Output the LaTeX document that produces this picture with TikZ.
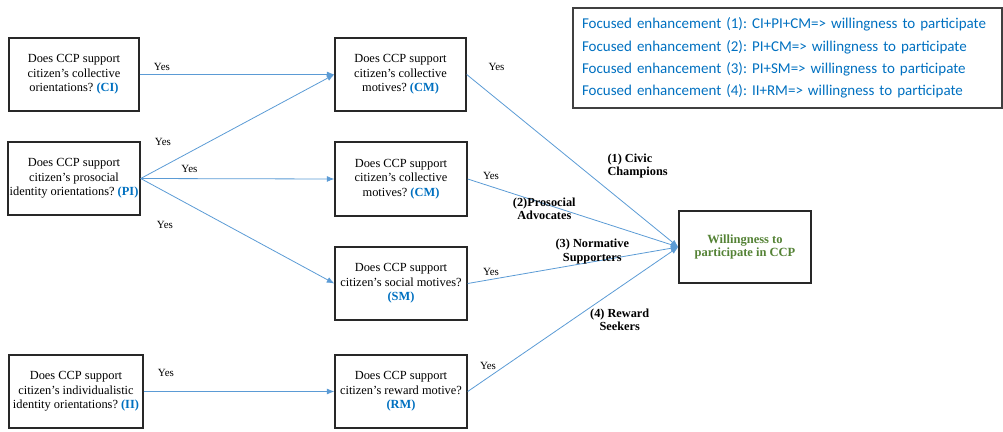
\documentclass[tikz,border=0pt]{standalone}
\usepackage{fontspec}
\setmainfont{Liberation Serif}
\newfontfamily\legendfont{Carlito}
\usetikzlibrary{arrows.meta}
\definecolor{arrowblue}{RGB}{91,155,213}
\definecolor{labelblue}{RGB}{0,112,192}
\definecolor{textgreen}{RGB}{84,130,53}
\definecolor{boxline}{RGB}{40,40,40}
\definecolor{legendline}{RGB}{64,64,64}
\newcommand{\abbr}[1]{\textbf{\textcolor{labelblue}{#1}}}
\frenchspacing
\begin{document}
\begin{tikzpicture}[x=1pt,y=-1pt,
  qbox/.style={draw=boxline, line width=1.4pt, align=center, inner sep=1pt,
    minimum height=73pt, font=\frenchspacing\fontsize{12.4}{14.7}\selectfont},
  arr/.style={draw=arrowblue, line width=0.8pt, -{Latex[length=7.5pt,width=6pt]}},
  yes/.style={inner sep=0pt, font=\fontsize{11}{13}\selectfont},
  lab/.style={inner sep=0pt, font=\bfseries\fontsize{12.3}{13.4}\selectfont},
]
\useasboundingbox (0,0) rectangle (1003,431);

% legend
\node[draw=legendline, line width=1.4pt, minimum width=429pt, minimum height=100pt,
  text width=411pt, align=left, inner sep=9pt, text=labelblue,
  font=\legendfont\frenchspacing\fontsize{15}{22.3}\selectfont] (legend) at (787.5,58)
  {Focused enhancement (1): CI+PI+CM=> willingness to participate\\
   Focused enhancement (2): PI+CM=> willingness to participate\\
   Focused enhancement (3): PI+SM=> willingness to participate\\
   Focused enhancement (4): II+RM=> willingness to participate};

% left column
\node[qbox, minimum width=130pt] (ci) at (74,74.5)
  {Does CCP support\\citizen’s collective\\orientations? \abbr{(CI)}};
\node[qbox, minimum width=132pt] (pi) at (74,178.5)
  {Does CCP support\\citizen’s prosocial\\identity orientations? \abbr{(PI)}};
\node[qbox, minimum width=134pt] (ii) at (76,391.5)
  {Does CCP support\\citizen’s individualistic\\identity orientations? \abbr{(II)}};

% middle column
\node[qbox, minimum width=131pt] (cm1) at (400.5,74.5)
  {Does CCP support\\citizen’s collective\\motives? \abbr{(CM)}};
\node[qbox, minimum width=132pt, minimum height=74pt] (cm2) at (401,179)
  {Does CCP support\\citizen’s collective\\motives? \abbr{(CM)}};
\node[qbox, minimum width=132pt] (sm) at (401,283.5)
  {Does CCP support\\citizen’s social motives?\\\abbr{(SM)}};
\node[qbox, minimum width=132pt] (rm) at (401,391.5)
  {Does CCP support\\citizen’s reward motive?\\\abbr{(RM)}};

% target
\node[draw=boxline, line width=1.4pt, minimum width=132pt, minimum height=72pt,
  align=center, inner sep=1pt, text=textgreen,
  font=\bfseries\fontsize{12.5}{13.3}\selectfont] (t) at (745,247)
  {Willingness to\\participate in CCP};

% connectors
\draw[arr] (ci.east) -- (cm1.west);
\draw[arr] (pi.east) -- (cm1.west);
\draw[arr] (pi.east) -- (cm2.west);
\draw[arr] (pi.east) -- (sm.west);
\draw[arr] (ii.east) -- (rm.west);
\draw[arr] (cm1.east) -- (t.west);
\draw[arr] (cm2.east) -- (t.west);
\draw[arr] (sm.east) -- (t.west);
\draw[arr] (rm.east) -- (t.west);

% Yes labels
\node[yes] (y1) at (162,67) {Yes};
\node[yes] (y2) at (163,141.7) {Yes};
\node[yes] (y3) at (189.5,169) {Yes};
\node[yes] (y4) at (165,225) {Yes};
\node[yes] (y5) at (166,373) {Yes};
\node[yes] (y6) at (496.5,67.3) {Yes};
\node[yes] (y7) at (491,176) {Yes};
\node[yes] (y8) at (491,271.7) {Yes};
\node[yes] (y9) at (488,366) {Yes};

% path labels
\node[lab, align=left, anchor=west] (l1) at (607.3,166) {(1) Civic\\Champions};
\node[lab, align=center] (l2) at (544.3,209) {(2)Prosocial\\Advocates};
\node[lab, align=center] (l3) at (592.3,251.5) {(3) Normative\\Supporters};
\node[lab, align=center] (l4) at (619.7,319.5) {(4) Reward\\Seekers};
\end{tikzpicture}
\end{document}
